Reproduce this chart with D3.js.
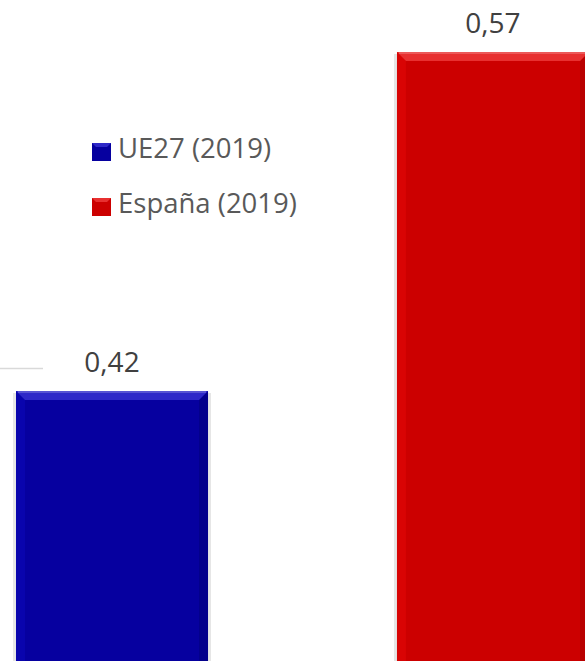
<!DOCTYPE html>
<html><head><meta charset="utf-8">
<script src="https://cdnjs.cloudflare.com/ajax/libs/d3/7.8.5/d3.min.js"></script>
<style>html,body{margin:0;padding:0;background:#fff;overflow:hidden}</style>
</head><body>
<script>
const categories = ["UE27 (2019)", "España (2019)"];
const values = [0.42, 0.57];
const valueLabels = ["0,42", "0,57"];
const gridValues = [0.43];

const W = 585, H = 661;
const colors = {"UE27 (2019)": {base:"#06009F", light:"#2E28C8", dark:"#03006E", side:"#0A05B0"},
                "España (2019)": {base:"#CC0000", light:"#E83030", dark:"#9E0000", side:"#DC0505"}};

const svg = d3.select("body").append("svg").attr("width", W).attr("height", H);

const x = d3.scaleBand().domain(categories).range([16, 589]).paddingInner(0.496).paddingOuter(0);
const y = d3.scaleLinear().domain([0, 0.57]).range([1340.2, 52]);

// gridline fragment
svg.selectAll("line.grid").data(gridValues).join("line")
  .attr("class","grid")
  .attr("x1", 0).attr("x2", 43)
  .attr("y1", d => Math.round(y(d)) + 0.5).attr("y2", d => Math.round(y(d)) + 0.5)
  .attr("stroke", "#d9d9d9").attr("stroke-width", 1.5);

const data = categories.map((c,i)=>({c, v: values[i], label: valueLabels[i]}));
const bw = x.bandwidth();
const bev = 9;

const g = svg.selectAll("g.bar").data(data).join("g").attr("class","bar");

// shadow
g.append("rect")
  .attr("x", d => x(d.c) - 3).attr("y", d => y(d.v) + 2)
  .attr("width", bw + 6).attr("height", d => y(0) - y(d.v))
  .attr("fill", "#e6e6e6");

// main body
g.append("rect")
  .attr("x", d => x(d.c)).attr("y", d => y(d.v))
  .attr("width", bw).attr("height", d => y(0) - y(d.v))
  .attr("fill", d => colors[d.c].base);

// left bevel
g.append("polygon")
  .attr("points", d => {
    const x0 = x(d.c), y0 = y(d.v), y1 = y(0);
    return [[x0,y0],[x0+bev,y0+bev],[x0+bev,y1-bev],[x0,y1]].join(" ");
  })
  .attr("fill", d => colors[d.c].side).attr("opacity", 0.8);

// right bevel
g.append("polygon")
  .attr("points", d => {
    const x1 = x(d.c)+bw, y0 = y(d.v), y1 = y(0);
    return [[x1,y0],[x1-bev,y0+bev],[x1-bev,y1-bev],[x1,y1]].join(" ");
  })
  .attr("fill", d => colors[d.c].dark).attr("opacity", 0.4);

// top bevel
g.append("polygon")
  .attr("points", d => {
    const x0 = x(d.c), x1 = x0+bw, y0 = y(d.v);
    return [[x0,y0],[x1,y0],[x1-bev,y0+bev],[x0+bev,y0+bev]].join(" ");
  })
  .attr("fill", d => colors[d.c].light);

// top highlight line
g.append("line")
  .attr("x1", d => x(d.c)+2).attr("x2", d => x(d.c)+bw-2)
  .attr("y1", d => y(d.v)+1).attr("y2", d => y(d.v)+1)
  .attr("stroke", "#ffffff").attr("stroke-opacity", 0.2).attr("stroke-width", 2);

// value labels
g.append("text")
  .attr("x", d => x(d.c) + bw/2)
  .attr("y", d => y(d.v) - 19)
  .attr("text-anchor", "middle")
  .attr("font-family", "'Open Sans', sans-serif")
  .attr("font-size", 28)
  .attr("fill", "#404040")
  .text(d => d.label);

// legend
const lg = svg.append("g").attr("transform", "translate(92,143)");
const items = lg.selectAll("g").data(categories).join("g")
  .attr("transform", (d,i) => `translate(0,${i*55})`);
items.append("rect").attr("width", 19).attr("height", 18)
  .attr("fill", d => colors[d].base);
items.append("polygon")
  .attr("points", "0,0 19,0 15,4 4,4").attr("fill", d => colors[d].light);
items.append("text")
  .attr("x", 26).attr("y", 15)
  .attr("font-family", "'Open Sans', sans-serif")
  .attr("font-size", 27.5)
  .attr("fill", "#595959")
  .text(d => d);
</script>
</body></html>
